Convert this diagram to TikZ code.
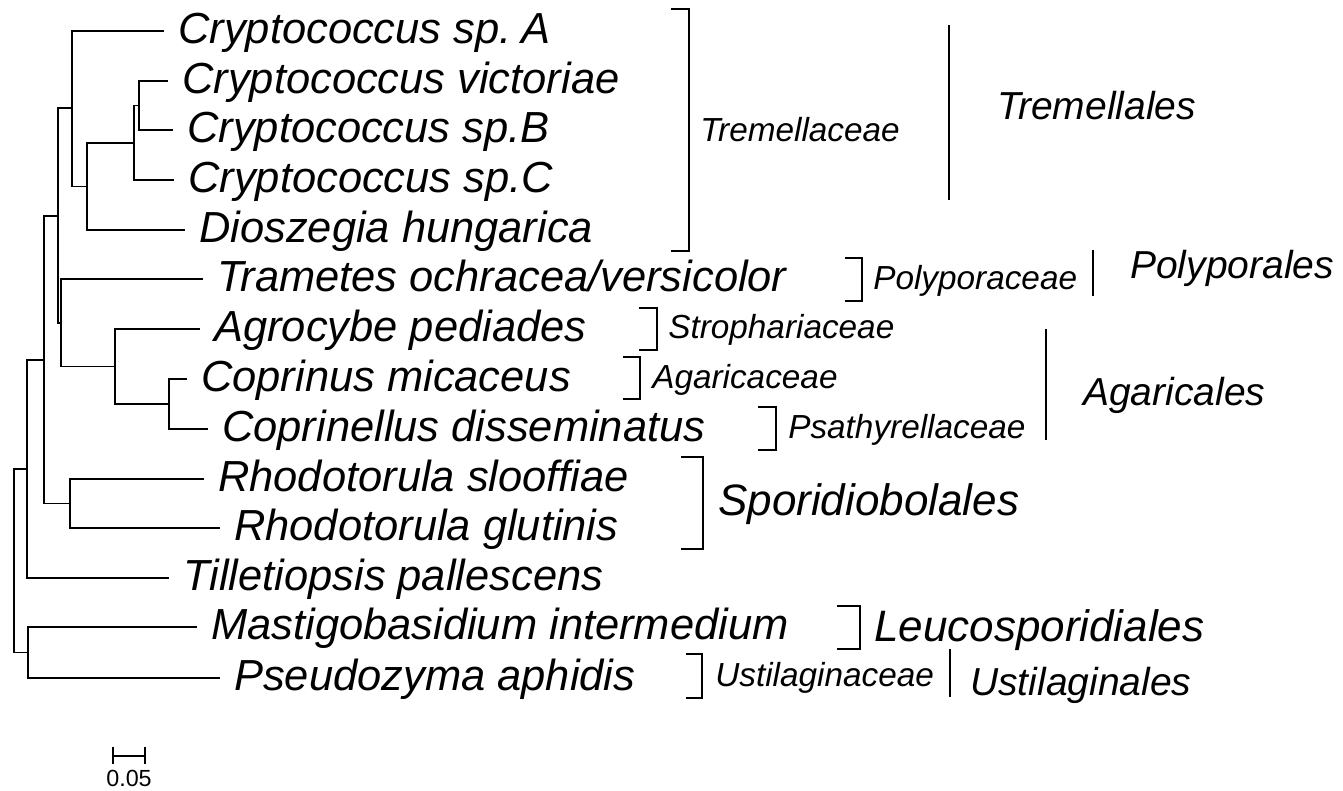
\documentclass[tikz,border=0pt]{standalone}
\usepackage{fontspec}
\setmainfont{Liberation Sans}
\usetikzlibrary{calc}
\tikzset{
  edge/.style={line width=1.4pt, line cap=rect},
  brk/.style={line width=1.4pt, line cap=butt},
  leaf/.style={anchor=base west, inner sep=0pt, font=\fontsize{32.6pt}{34pt}\selectfont\itshape},
  fam/.style={anchor=base west, inner sep=0pt, font=\fontsize{25pt}{26pt}\selectfont\itshape},
  ord/.style={anchor=base west, inner sep=0pt, font=\fontsize{29.25pt}{31pt}\selectfont\itshape},
  big/.style={anchor=base west, inner sep=0pt, font=\fontsize{33pt}{35pt}\selectfont\itshape},
}
\begin{document}
\begin{tikzpicture}[x=0.75pt,y=-0.75pt]
\useasboundingbox (0,0) rectangle (1343,790);
% tips
\coordinate (t1) at (163,31);
\coordinate (t2) at (167,81);
\coordinate (t3) at (172,130);
\coordinate (t4) at (173,180);
\coordinate (t5) at (184,230);
\coordinate (t6) at (202,279);
\coordinate (t7) at (199,329);
\coordinate (t8) at (186,379);
\coordinate (t9) at (207,429);
\coordinate (t10) at (203,479);
\coordinate (t11) at (219,528);
\coordinate (t12) at (168,578);
\coordinate (t13) at (196,627);
\coordinate (t14) at (219,678);
% internal nodes
\coordinate (nvB) at (139,105.5);
\coordinate (nvBC) at (134,143);
\coordinate (ncD) at (87,186.5);
\coordinate (nA) at (72,108);
\coordinate (ncop) at (169,404);
\coordinate (nagr) at (115,366.5);
\coordinate (ntra) at (61,323);
\coordinate (nbas) at (58,216);
\coordinate (nrho) at (70,503.5);
\coordinate (n44) at (44,360);
\coordinate (n27) at (27,469);
\coordinate (nmp) at (28,652.5);
\coordinate (root) at (14,561);
% edges
\draw[edge] (nvB) |- (t2); \draw[edge] (nvB) |- (t3);
\draw[edge] (nvBC) |- (nvB); \draw[edge] (nvBC) |- (t4);
\draw[edge] (ncD) |- (nvBC); \draw[edge] (ncD) |- (t5);
\draw[edge] (nA) |- (t1); \draw[edge] (nA) |- (ncD);
\draw[edge] (ncop) |- (t8); \draw[edge] (ncop) |- (t9);
\draw[edge] (nagr) |- (t7); \draw[edge] (nagr) |- (ncop);
\draw[edge] (ntra) |- (t6); \draw[edge] (ntra) |- (nagr);
\draw[edge] (nbas) |- (nA); \draw[edge] (nbas) |- (ntra);
\draw[edge] (nrho) |- (t10); \draw[edge] (nrho) |- (t11);
\draw[edge] (n44) |- (nbas); \draw[edge] (n44) |- (nrho);
\draw[edge] (n27) |- (n44); \draw[edge] (n27) |- (t12);
\draw[edge] (nmp) |- (t13); \draw[edge] (nmp) |- (t14);
\draw[edge] (root) |- (n27); \draw[edge] (root) |- (nmp);
% leaf labels
\node[leaf] (l1) at ($(t1)+(15,12)$) {Cryptococcus sp.\kern-0.05em\ A};
\node[leaf] (l2) at ($(t2)+(15,12)$) {Cryptococcus victoriae};
\node[leaf] (l3) at ($(t3)+(15,12)$) {Cryptococcus sp.B};
\node[leaf] (l4) at ($(t4)+(15,12)$) {Cryptococcus sp.C};
\node[leaf] (l5) at ($(t5)+(15,12)$) {Dioszegia hungarica};
\node[leaf] (l6) at ($(t6)+(15,12)$) {Trametes ochracea/versicolor};
\node[leaf] (l7) at ($(t7)+(15,12)$) {Agrocybe pediades};
\node[leaf] (l8) at ($(t8)+(15,12)$) {Coprinus micaceus};
\node[leaf] (l9) at ($(t9)+(15,12)$) {Coprinellus disseminatus};
\node[leaf] (l10) at ($(t10)+(15,12)$) {Rhodotorula slooffiae};
\node[leaf] (l11) at ($(t11)+(15,12)$) {Rhodotorula glutinis};
\node[leaf] (l12) at ($(t12)+(15,12)$) {Tilletiopsis pallescens};
\node[leaf] (l13) at ($(t13)+(15,12)$) {Mastigobasidium intermedium};
\node[leaf] (l14) at ($(t14)+(15,12)$) {Pseudozyma aphidis};
% brackets
\draw[brk] (671,9) -- (689,9) -- (689,251) -- (671,251);
\draw[brk] (845,258) -- (862,258) -- (862,301) -- (845,301);
\draw[brk] (639,308) -- (657,308) -- (657,350) -- (639,350);
\draw[brk] (623,357) -- (640,357) -- (640,399) -- (623,399);
\draw[brk] (758,407) -- (776,407) -- (776,450) -- (758,450);
\draw[brk] (681,457) -- (703,457) -- (703,549) -- (681,549);
\draw[brk] (837,606) -- (860,606) -- (860,649) -- (837,649);
\draw[brk] (686,654) -- (702,654) -- (702,698) -- (686,698);
\draw[brk] (949,25) -- (949,200);
\draw[brk] (1093,250) -- (1093,296);
\draw[brk] (1046,329) -- (1046,440);
\draw[brk] (950,649) -- (950,697);
% group labels
\node[fam] (f1) at (700,141) {Tremellaceae};
\node[fam] (f2) at (873,289) {Polyporaceae};
\node[fam] (f3) at (668,338) {Strophariaceae};
\node[fam] (f4) at (652,388) {Agaricaceae};
\node[fam] (f5) at (788,438) {Psathyrellaceae};
\node[fam] (f6) at (715,686) {Ustilaginaceae};
\node[ord] (o1) at (997,119) {Tremellales};
\node[ord] (o2) at (1130,278) {Polyporales};
\node[ord] (o3) at (1083,405) {Agaricales};
\node[ord] (o4) at (970,695) {Ustilaginales};
\node[big] (o5) at (718,515) {Sporidiobolales};
\node[big] (o6) at (874,641) {Leucosporidiales};
% scale bar
\coordinate (sb1) at (113,756);
\coordinate (sb2) at (145,756);
\draw[brk] (sb1) -- (sb2);
\draw[brk] ($(sb1)+(0,-9)$) -- ($(sb1)+(0,8)$);
\draw[brk] ($(sb2)+(0,-9)$) -- ($(sb2)+(0,8)$);
\node[anchor=base, inner sep=0pt, font=\fontsize{17.5pt}{18pt}\selectfont] (sbl) at (129,786) {0.05};
\end{tikzpicture}
\end{document}
